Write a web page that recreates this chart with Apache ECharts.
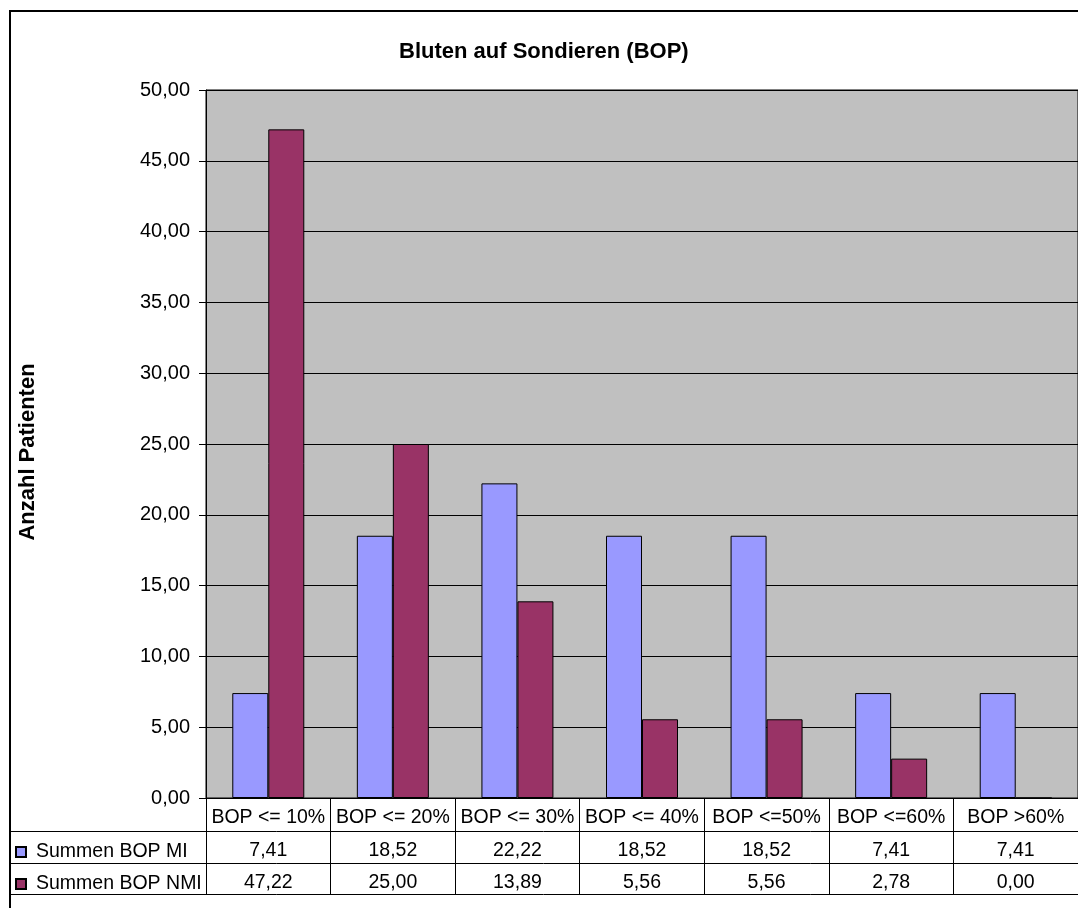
<!DOCTYPE html>
<html>
<head>
<meta charset="utf-8">
<script src="https://cdn.jsdelivr.net/npm/echarts@6/dist/echarts.min.js"></script>
<style>
html,body{margin:0;padding:0;background:#fff;}
#chart{width:1078px;height:908px;}
</style>
</head>
<body>
<div id="chart"></div>
<script>
var categories = ['BOP <= 10%', 'BOP <= 20%', 'BOP <= 30%', 'BOP <= 40%', 'BOP <=50%', 'BOP <=60%', 'BOP >60%'];
var seriesNames = ['Summen BOP MI', 'Summen BOP NMI'];
var valuesMI = [7.41, 18.52, 22.22, 18.52, 18.52, 7.41, 7.41];
var valuesNMI = [47.22, 25.00, 13.89, 5.56, 5.56, 2.78, 0.00];
var yMin = 0, yMax = 50, yStep = 5;
var titleText = 'Bluten auf Sondieren (BOP)';
var yAxisTitle = 'Anzahl Patienten';

var FONT = "'Liberation Sans', Arial, sans-serif";
function fmt(v) { return v.toFixed(2).replace('.', ','); }

var chart = echarts.init(document.getElementById('chart'), null, {renderer: 'canvas'});

function tableAxis(offset, tickLen, formatter, showLine) {
  return {
    type: 'category',
    data: categories,
    position: 'bottom',
    offset: offset,
    boundaryGap: true,
    axisLine: {show: showLine, lineStyle: {color: '#000', width: 1}},
    axisTick: {show: true, interval: 0, length: tickLen, lineStyle: {color: '#000', width: 1}},
    axisLabel: {
      show: true, interval: 0, margin: 10, color: '#000',
      fontFamily: FONT, fontSize: 19.5,
      formatter: formatter
    },
    splitLine: {show: false}
  };
}

var option = {
  backgroundColor: '#ffffff',
  animation: false,
  title: {
    text: titleText,
    left: 399,
    top: 41,
    padding: 0,
    textStyle: {fontFamily: FONT, fontSize: 22, fontWeight: 'bold', color: '#000'}
  },
  legend: {
    data: seriesNames,
    orient: 'vertical',
    left: 15,
    top: 841,
    padding: 0,
    itemWidth: 10,
    itemHeight: 10,
    itemGap: 10,
    icon: 'rect',
    textStyle: {fontFamily: FONT, fontSize: 19.5, color: '#000', lineHeight: 22, padding: [0, 0, 0, 5]}
  },
  grid: {
    left: 206,
    top: 90,
    width: 878,
    height: 708,
    show: true,
    backgroundColor: '#C0C0C0',
    borderColor: '#000',
    borderWidth: 1,
    containLabel: false
  },
  xAxis: [
    tableAxis(0, 33, null, true),
    tableAxis(33, 32, function (v, i) { return fmt(valuesMI[i]); }, false),
    tableAxis(65, 31, function (v, i) { return fmt(valuesNMI[i]); }, false)
  ],
  yAxis: {
    type: 'value',
    min: yMin,
    max: yMax,
    interval: yStep,
    name: yAxisTitle,
    nameLocation: 'middle',
    nameRotate: 90,
    nameGap: 167,
    nameTextStyle: {fontFamily: FONT, fontSize: 22, fontWeight: 'bold', color: '#000', padding: [0, 16, 0, 0]},
    axisLine: {show: true, lineStyle: {color: '#000', width: 1}},
    axisTick: {show: true, length: 7, lineStyle: {color: '#000', width: 1}},
    axisLabel: {
      margin: 16, color: '#000', fontFamily: FONT, fontSize: 20,
      formatter: function (v) { return fmt(v); }
    },
    splitLine: {show: true, lineStyle: {color: '#000', width: 1}}
  },
  series: [
    {
      name: seriesNames[0],
      type: 'bar',
      xAxisIndex: 0,
      data: valuesMI,
      barWidth: 36,
      barGap: '0%',
      itemStyle: {color: '#9999FF', borderColor: '#000', borderWidth: 1}
    },
    {
      name: seriesNames[1],
      type: 'bar',
      xAxisIndex: 0,
      data: valuesNMI,
      barWidth: 36,
      barGap: '0%',
      itemStyle: {color: '#993366', borderColor: '#000', borderWidth: 1}
    }
  ],
  graphic: [
    {type: 'rect', silent: true, shape: {x: 10, y: 11, width: 1200, height: 1000},
     style: {fill: null, stroke: '#000', lineWidth: 2}},
    {type: 'line', silent: true, shape: {x1: 9, y1: 831.5, x2: 1078, y2: 831.5},
     style: {stroke: '#000', lineWidth: 1}},
    {type: 'line', silent: true, shape: {x1: 9, y1: 863.5, x2: 1078, y2: 863.5},
     style: {stroke: '#000', lineWidth: 1}},
    {type: 'line', silent: true, shape: {x1: 9, y1: 894.5, x2: 1078, y2: 894.5},
     style: {stroke: '#000', lineWidth: 1}}
  ]
};

chart.setOption(option);
</script>
</body>
</html>
